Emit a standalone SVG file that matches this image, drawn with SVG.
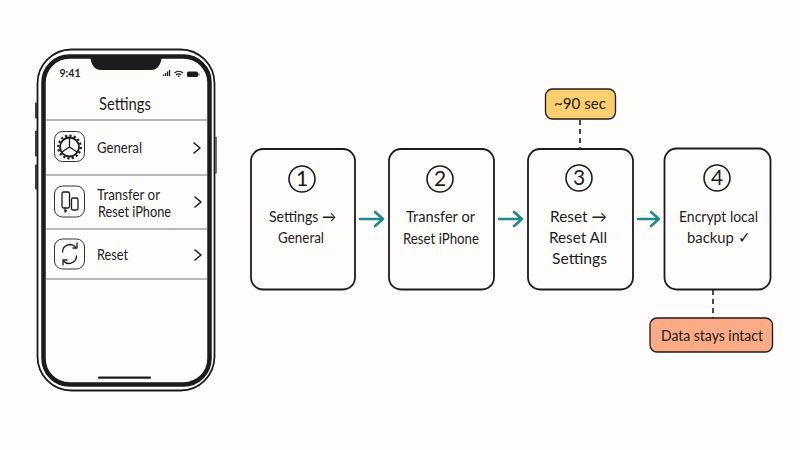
<svg xmlns="http://www.w3.org/2000/svg" width="800" height="450" viewBox="0 0 800 450">
<style>
text{font-family:"Lato","Liberation Sans",sans-serif;fill:#1c1c1c;text-anchor:middle}
.t{font-size:15.500px}
.l{font-size:14.500px;text-anchor:start}
.n{font-size:21px}
.card{fill:#fffcfc;stroke:#1c1c1c;stroke-width:1.800}
.ln{fill:none;stroke:#1c1c1c;stroke-width:1.300;stroke-linecap:round;stroke-linejoin:round}
.div{stroke:#777;stroke-width:1.200}
.arr{fill:none;stroke:#1f8a8a;stroke-width:2.600;stroke-linecap:round;stroke-linejoin:round}
.dash{stroke:#1c1c1c;stroke-width:1.600;stroke-dasharray:5 4}
.chev{fill:none;stroke:#1c1c1c;stroke-width:1.600;stroke-linecap:round;stroke-linejoin:round}
.ico{fill:#fffcfc;stroke:#333;stroke-width:1}
</style>
<rect width="800" height="450" fill="#fffcfc"/>
<g id="phone">
<path d="M35.500 103h2.500v15h-2.500zM35.500 131h2.500v25h-2.500zM35.500 165h2.500v24h-2.500z" fill="#555" stroke="#222" stroke-width=".8"/>
<path d="M215 137h1.500v36h-1.500z" fill="#bbb" stroke="#444" stroke-width=".7"/>
<rect x="37.500" y="49.500" width="177" height="341" rx="34" fill="#fffcfc" stroke="#1c1c1c" stroke-width="1.800"/>
<rect x="43.500" y="56.500" width="166" height="328" rx="26" fill="#fffcfc" stroke="#1c1c1c" stroke-width="4.500"/>
<path d="M90 56h72c-1 8-4 14-11 14h-50c-7 0-10-6-11-14z" fill="#1c1c1c"/>
<text x="70" y="77" style="font-size:10.500px;font-weight:700">9:41</text>
<path d="M163.500 76v-1.500M165.500 76v-3M167.500 76v-4.500M169.500 76v-6" stroke="#1c1c1c" stroke-width="1.300"/>
<path d="M174.500 73a6 6 0 0 1 8.500 0M176 75a3.500 3.500 0 0 1 5 0" fill="none" stroke="#1c1c1c" stroke-width="1.200"/>
<circle cx="178.700" cy="76.300" r=".9" fill="#1c1c1c"/>
<rect x="187" y="71.500" width="11" height="5.500" rx="1.500" fill="#1c1c1c"/>
<path d="M199 73.500v2" stroke="#1c1c1c"/>
<rect x="98" y="376.500" width="53" height="2.200" rx="1" fill="#1c1c1c"/>
<text x="125" y="110" style="font-size:16.500px" textLength="52" lengthAdjust="spacingAndGlyphs">Settings</text>
<path class="div" d="M46 120H207M46 175H207M46 229H207M46 279H207"/>
</g>
<g id="row-general">
<rect class="ico" x="54.500" y="131.500" width="30" height="30" rx="8"/>
<circle cx="69.500" cy="147" r="9.500" fill="none" stroke="#1c1c1c" stroke-width="1.800"/>
<circle cx="69.500" cy="147" r="11.300" fill="none" stroke="#1c1c1c" stroke-width="2.200" stroke-dasharray="2.200 2.200"/>
<path class="ln" d="M69.500 147v-9M69.500 147l-7.500 5M69.500 147l7.500 5"/>
<text class="l" x="97" y="153" textLength="45" lengthAdjust="spacingAndGlyphs">General</text>
<path class="chev" d="M194 143l6 5-6 5"/>
</g>
<g id="row-transfer">
<rect class="ico" x="54.500" y="186" width="30" height="31" rx="8"/>
<rect class="ln" x="62" y="192" width="7.500" height="16" rx="1.500"/>
<rect class="ln" x="71.500" y="198" width="6.500" height="12" rx="1.500"/>
<path class="ln" d="M65 208v4l1.500-1.500"/>
<text class="l" x="97" y="200" textLength="63" lengthAdjust="spacingAndGlyphs">Transfer or</text>
<text class="l" x="98" y="217" textLength="73" lengthAdjust="spacingAndGlyphs">Reset iPhone</text>
<path class="chev" d="M195 197l6 5-6 5"/>
</g>
<g id="row-reset">
<rect class="ico" x="54.500" y="239" width="30" height="30" rx="8"/>
<path class="ln" d="M62.500 252a7.500 7.500 0 0 1 13-5M76.500 256a7.500 7.500 0 0 1-13 5"/>
<path class="ln" d="M77 243v5h-4M63 265v-5h4"/>
<text class="l" x="97" y="260" textLength="31" lengthAdjust="spacingAndGlyphs">Reset</text>
<path class="chev" d="M195 250l6 5-6 5"/>
</g>
<g id="connectors">
<path class="arr" d="M360 219H383M375 212l8 7-8 7"/>
<path class="arr" d="M499 219H522M514 212l8 7-8 7"/>
<path class="arr" d="M638 219H659M651 212l8 7-8 7"/>
<path class="dash" d="M580 120V148"/>
<path class="dash" d="M713 290V318"/>
</g>
<g id="step-1">
<rect class="card" x="251" y="149" width="104" height="140.500" rx="12"/>
<circle cx="302" cy="179" r="13" fill="none" stroke="#1c1c1c" stroke-width="1.600"/>
<text class="n" x="302" y="186">1</text>
<text class="t" x="302.500" y="222" textLength="67" lengthAdjust="spacingAndGlyphs">Settings →</text>
<text class="t" x="301" y="243" textLength="46" lengthAdjust="spacingAndGlyphs">General</text>
</g>
<g id="step-2">
<rect class="card" x="389" y="149" width="105" height="140.500" rx="12"/>
<circle cx="440" cy="179" r="13" fill="none" stroke="#1c1c1c" stroke-width="1.600"/>
<text class="n" x="440" y="186">2</text>
<text class="t" x="440.500" y="222" textLength="69" lengthAdjust="spacingAndGlyphs">Transfer or</text>
<text class="t" x="441" y="244" textLength="76" lengthAdjust="spacingAndGlyphs">Reset iPhone</text>
</g>
<g id="step-3">
<rect class="card" x="528" y="149" width="105" height="140.500" rx="12"/>
<circle cx="579" cy="178" r="13" fill="none" stroke="#1c1c1c" stroke-width="1.600"/>
<text class="n" x="579" y="185">3</text>
<text class="t" x="578.500" y="222" textLength="57" lengthAdjust="spacingAndGlyphs">Reset →</text>
<text class="t" x="578" y="243" textLength="58" lengthAdjust="spacingAndGlyphs">Reset All</text>
<text class="t" x="579.500" y="264" textLength="55" lengthAdjust="spacingAndGlyphs">Settings</text>
</g>
<g id="step-4">
<rect class="card" x="664.500" y="148.500" width="106" height="141" rx="12"/>
<circle cx="717" cy="178" r="13" fill="none" stroke="#1c1c1c" stroke-width="1.600"/>
<text class="n" x="717" y="185">4</text>
<text class="t" x="718.500" y="222" textLength="79" lengthAdjust="spacingAndGlyphs">Encrypt local</text>
<text class="t" x="718.500" y="243" textLength="63" lengthAdjust="spacingAndGlyphs">backup ✓</text>
</g>
<g id="note-time">
<rect x="545.500" y="89" width="70" height="30" rx="7" fill="#fbcf6f" stroke="#1c1c1c" stroke-width="1.300"/>
<text class="t" x="580" y="109" textLength="52" lengthAdjust="spacingAndGlyphs">~90 sec</text>
</g>
<g id="note-data">
<rect x="650" y="318" width="122.500" height="34" rx="7" fill="#fbab85" stroke="#1c1c1c" stroke-width="1.300"/>
<text x="712" y="341" style="font-size:14.500px" textLength="102" lengthAdjust="spacingAndGlyphs">Data stays intact</text>
</g>
</svg>
